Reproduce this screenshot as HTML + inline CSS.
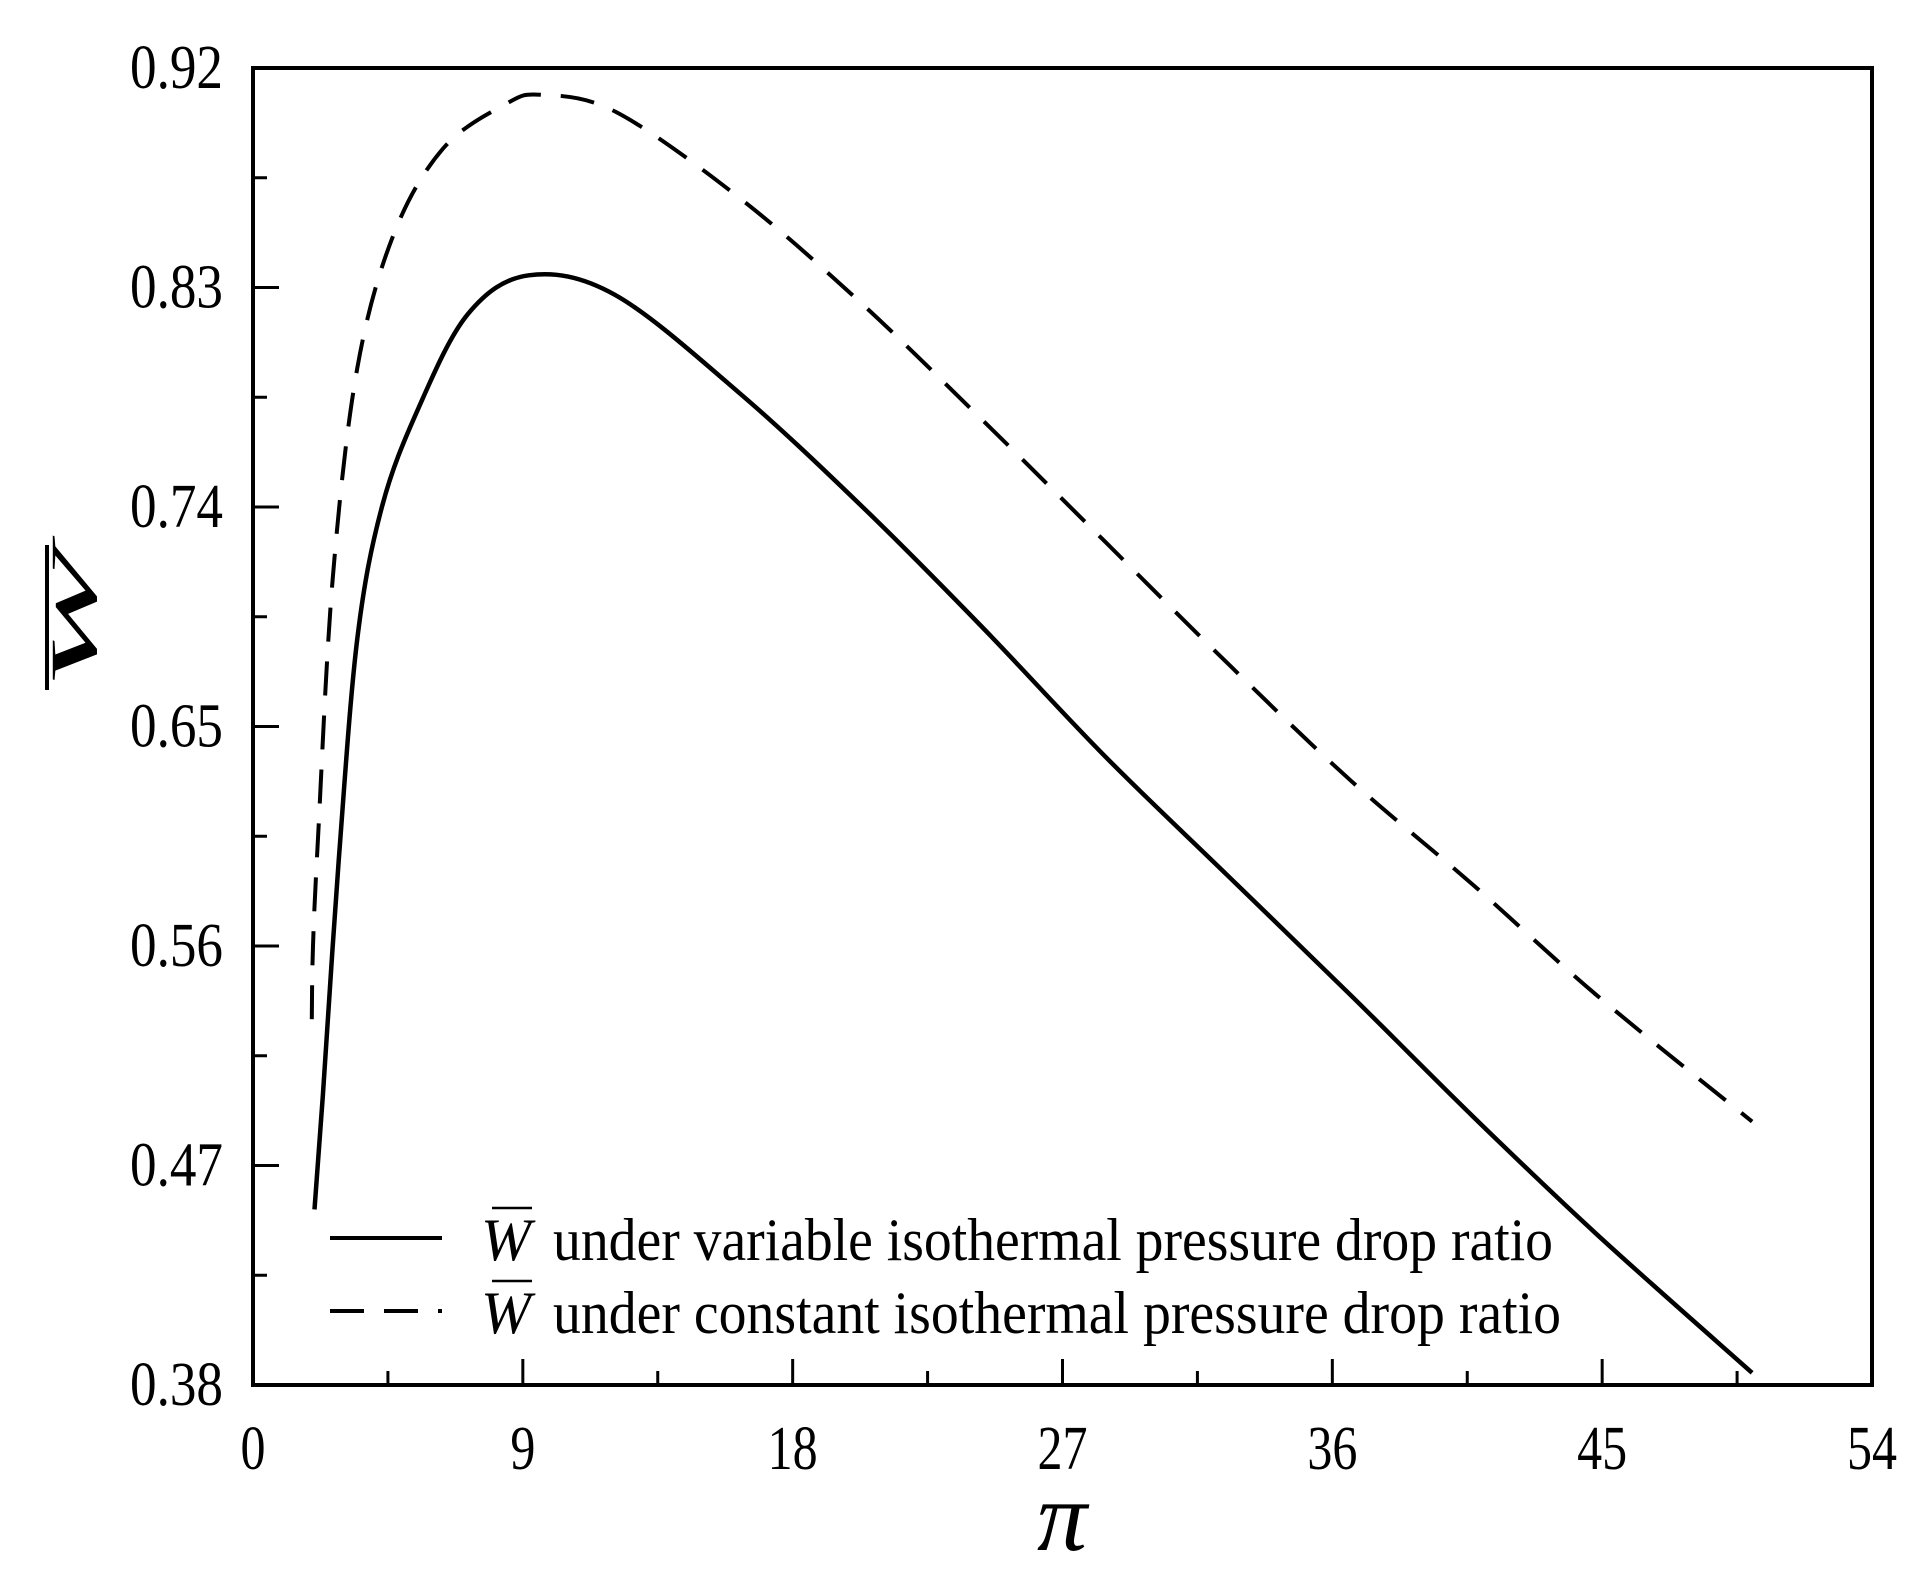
<!DOCTYPE html>
<html><head><meta charset="utf-8"><style>
html,body{margin:0;padding:0;background:#fff;}
svg{display:block;font-family:"Liberation Serif",serif;}
</style></head><body>
<svg id="chart" width="1924" height="1578" viewBox="0 0 1924 1578" xmlns="http://www.w3.org/2000/svg">
<g id="plot"></g>
</svg>
<script>
const xTicks = [0, 9, 18, 27, 36, 45, 54];
const yTicks = [0.38, 0.47, 0.56, 0.65, 0.74, 0.83, 0.92];
const xVariable = [2.05, 2.33, 2.86, 3.48, 4.3, 5.5, 7.16, 9.2, 12.07, 16.2, 20.25, 24.3, 28.4, 32.5, 36.6, 40.7, 44.8, 50];
const yVariable = [0.452, 0.499, 0.595, 0.686, 0.740, 0.780, 0.819, 0.835, 0.827, 0.787, 0.741, 0.691, 0.638, 0.589, 0.540, 0.490, 0.442, 0.385];
const xConstant = [1.96, 2.0, 2.17, 2.66, 3.48, 4.7, 6.34, 8.4, 9.6, 12.1, 16.2, 20.25, 24.3, 28.4, 32.5, 36.6, 40.7, 44.8, 50];
const yConstant = [0.53, 0.56, 0.605, 0.711, 0.797, 0.852, 0.887, 0.905, 0.909, 0.902, 0.867, 0.824, 0.776, 0.726, 0.676, 0.628, 0.585, 0.540, 0.488];

const L=253,R=1872,T=68,B=1385;
const xs=v=>L+(v-0)/(54-0)*(R-L);
const ys=v=>B-(v-0.38)/(0.92-0.38)*(B-T);
const g=document.getElementById('plot');
const NS='http://www.w3.org/2000/svg';
function mk(tag,attrs,text){const e=document.createElementNS(NS,tag);for(const k in attrs)e.setAttribute(k,attrs[k]);if(text!==undefined)e.textContent=text;g.appendChild(e);return e;}

let fr=mk('rect',{x:L,y:T,width:R-L,height:B-T,fill:'none',stroke:'#000','stroke-width':4});



for(let i=0;i<xTicks.length;i++){
  const x=xs(xTicks[i]);
  let t=mk('line',{x1:x,y1:B,x2:x,y2:B-26,stroke:'#000','stroke-width':3});
  
  
  const s=String(xTicks[i]);
  let lb=mk('text',{x:x,y:B+84,'font-size':62,'text-anchor':'middle',textLength:s.length*25,lengthAdjust:'spacingAndGlyphs'},s);
  
  
  if(i<xTicks.length-1){
    const xm=xs((xTicks[i]+xTicks[i+1])/2);
    let m=mk('line',{x1:xm,y1:B,x2:xm,y2:B-14,stroke:'#000','stroke-width':3});
    
    
  }
}
for(let i=0;i<yTicks.length;i++){
  const y=ys(yTicks[i]);
  let t=mk('line',{x1:L,y1:y,x2:L+26,y2:y,stroke:'#000','stroke-width':3});
  
  
  let lb=mk('text',{x:L-30,y:y+20,'font-size':62,'text-anchor':'end',textLength:93,lengthAdjust:'spacingAndGlyphs'},yTicks[i].toFixed(2));
  
  
  if(i<yTicks.length-1){
    const ym=ys((yTicks[i]+yTicks[i+1])/2);
    let m=mk('line',{x1:L,y1:ym,x2:L+14,y2:ym,stroke:'#000','stroke-width':3});
    
    
  }
}
let xt=mk('text',{x:1062,y:1550,'font-size':100,'font-style':'italic','text-anchor':'middle'},'π');


let yt=mk('text',{x:0,y:0,'font-size':66,'font-style':'italic','text-anchor':'middle',transform:'translate(96,620) rotate(-90) scale(2.6,1)'},'W');


let yb=mk('line',{x1:47,y1:545,x2:47,y2:690,stroke:'#000','stroke-width':4});



function smooth(xa,ya){
  const p=xa.map((x,i)=>[xs(x),ys(ya[i])]);
  let d='M'+p[0][0].toFixed(1)+','+p[0][1].toFixed(1);
  for(let i=0;i<p.length-1;i++){
    const p0=p[Math.max(0,i-1)],p1=p[i],p2=p[i+1],p3=p[Math.min(p.length-1,i+2)];
    const c1=[p1[0]+(p2[0]-p0[0])/6,p1[1]+(p2[1]-p0[1])/6];
    const c2=[p2[0]-(p3[0]-p1[0])/6,p2[1]-(p3[1]-p1[1])/6];
    d+=' C'+c1.map(v=>v.toFixed(1)).join(',')+' '+c2.map(v=>v.toFixed(1)).join(',')+' '+p2[0].toFixed(1)+','+p2[1].toFixed(1);
  }
  return d;
}
let s1=mk('path',{d:smooth(xVariable,yVariable),fill:'none',stroke:'#000','stroke-width':4.5,'stroke-linejoin':'round'});


let s2=mk('path',{d:smooth(xConstant,yConstant),fill:'none',stroke:'#000','stroke-width':4,'stroke-dasharray':'34 20'});



let l1=mk('line',{x1:330,y1:1238,x2:442,y2:1238,stroke:'#000','stroke-width':4});


let w1=mk('text',{x:481,y:1260,'font-size':60,'font-style':'italic'},'W');


let t1=mk('text',{x:553,y:1260,'font-size':60,textLength:1000,lengthAdjust:'spacingAndGlyphs'},'under variable isothermal pressure drop ratio');


let l2=mk('line',{x1:330,y1:1311,x2:442,y2:1311,stroke:'#000','stroke-width':4,'stroke-dasharray':'34 20'});


let w2=mk('text',{x:481,y:1333,'font-size':60,'font-style':'italic'},'W');


let t2=mk('text',{x:553,y:1333,'font-size':60,textLength:1008,lengthAdjust:'spacingAndGlyphs'},'under constant isothermal pressure drop ratio');


for(const yy of [1208,1281]){
  let b=mk('line',{x1:492,y1:yy,x2:532,y2:yy,stroke:'#000','stroke-width':2.5});
  
  
}
</script>
</body></html>
